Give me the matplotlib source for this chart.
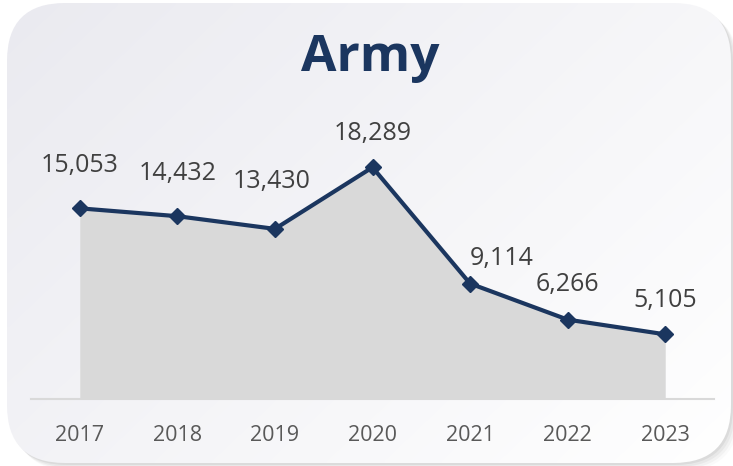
import matplotlib.pyplot as plt
import numpy as np
from matplotlib.patches import FancyBboxPatch

# Chart data
years = ["2017", "2018", "2019", "2020", "2021", "2022", "2023"]
personnel = [15053, 14432, 13430, 18289, 9114, 6266, 5105]
title = "Army"

# label offsets above each point, in pixels (dx, dy)
label_offsets = [(0, 43), (0, 43), (-3, 47), (0, 34), (32, 25), (0, 35), (0, 34)]

W, H = 733, 466
DPI = 100
NAVY = "#1b365f"
FILL = "#d9d9d9"

plt.rcParams["font.family"] = ["Open Sans", "DejaVu Sans"]

fig = plt.figure(figsize=(W / DPI, H / DPI), dpi=DPI)
fig.patch.set_facecolor("white")

# background card: rounded rectangle with soft diagonal gradient and shadow
bg = fig.add_axes([0, 0, 1, 1])
bg.set_xlim(0, W)
bg.set_ylim(H, 0)
bg.axis("off")

card_x, card_y, card_w, card_h, rad = 7, 3, 724, 460, 58
for i, a in enumerate([0.05, 0.04, 0.03, 0.02]):
    off = 2 + i * 2
    shadow = FancyBboxPatch((card_x + off, card_y + off), card_w, card_h,
                            boxstyle=f"round,pad=0,rounding_size={rad}",
                            facecolor="black", edgecolor="none", alpha=a)
    bg.add_patch(shadow)

card = FancyBboxPatch((card_x, card_y), card_w, card_h,
                      boxstyle=f"round,pad=0,rounding_size={rad}",
                      facecolor="none", edgecolor="none")
bg.add_patch(card)

gx, gy = np.meshgrid(np.linspace(0, 1, 200), np.linspace(0, 1, 130))
t = np.clip((gx * 0.6 + gy * 0.4), 0, 1)
c0 = np.array([0.918, 0.918, 0.941])
c1 = np.array([1.0, 1.0, 1.0])
grad = c0 + (c1 - c0) * t[..., None]
img = bg.imshow(grad, extent=(card_x, card_x + card_w, card_y + card_h, card_y),
                interpolation="bilinear", zorder=1)
img.set_clip_path(card)

# title
fig.text(370 / W, 1 - 58 / H, title, ha="center", va="center",
         fontsize=37, fontweight="bold", color=NAVY)

# main chart
ax = fig.add_axes([31 / W, 67 / H, 683 / W, 266 / H])
ax.patch.set_alpha(0)
x = np.arange(len(years))
ax.fill_between(x, personnel, 0, color=FILL, linewidth=0, zorder=1)
ax.plot(x, personnel, color=NAVY, linewidth=3, marker="D", markersize=8,
        markerfacecolor=NAVY, markeredgecolor=NAVY, zorder=3)

for xi, val, (dx, dy) in zip(x, personnel, label_offsets):
    ax.annotate(f"{val:,}", (xi, val), xytext=(dx * 0.72, dy * 0.72),
                textcoords="offset points", ha="center", va="center",
                fontsize=18, color="#404040")

ax.set_xlim(-0.5, len(years) - 0.5)
ax.set_ylim(0, 21000)
ax.set_xticks(x)
ax.set_xticklabels(years, fontsize=15.5, color="#595959")
ax.set_yticks([])
ax.tick_params(axis="x", length=0, pad=19)
for side in ["top", "left", "right"]:
    ax.spines[side].set_visible(False)
ax.spines["bottom"].set_color(FILL)
ax.spines["bottom"].set_linewidth(1.5)

fig.savefig("out.png", dpi=DPI)
